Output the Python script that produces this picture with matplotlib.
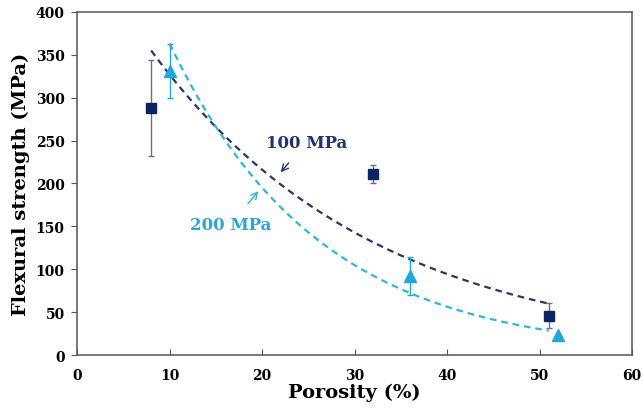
import numpy as np
import matplotlib.pyplot as plt

# 100 MPa compaction
x100 = [8, 32, 51]
y100 = [288, 211, 46]
e100 = [56, 11, 15]
# 200 MPa compaction
x200 = [10, 36, 52]
y200 = [331, 92, 23]
e200 = [31, 22, 0]

navy = '#0c2461'
navy_line = '#2a3568'
cyan = '#1fa8e0'
cyan_line = '#2cb8d6'

plt.rcParams['font.family'] = ['DejaVu Serif']
plt.rcParams['font.weight'] = 'bold'

fig = plt.figure(figsize=(6.43, 4.14), dpi=100)
ax = fig.add_axes([0.120, 0.140, 0.863, 0.829])

# exponential trendlines (log-linear fit, like the spreadsheet trendline)
b1, a1 = np.polyfit(x100, np.log(y100), 1)
xx1 = np.linspace(8, 51, 100)
ax.plot(xx1, np.exp(a1) * np.exp(b1 * xx1), '--', color=navy_line, lw=1.6, dashes=(3, 2.2))
b2, a2 = np.polyfit(x200, np.log(y200), 1)
xx2 = np.linspace(10, 51, 100)
ax.plot(xx2, np.exp(a2) * np.exp(b2 * xx2), '--', color=cyan_line, lw=1.6, dashes=(3, 2.2))

ax.errorbar(x100, y100, yerr=e100, fmt='s', color=navy, ms=7, ecolor='#6a6f95',
            elinewidth=1, capsize=2, capthick=1, zorder=5)
ax.errorbar(x200, y200, yerr=e200, fmt='^', color=cyan, ms=8, ecolor=cyan,
            elinewidth=1, capsize=2, capthick=1, zorder=5)

ax.annotate('100 MPa', xy=(22.0, 213), xytext=(24.8, 248), ha='center', va='center',
            fontsize=12, fontweight='bold', color='#1f3370',
            arrowprops=dict(arrowstyle='->', color='#2a3568', lw=1, shrinkA=9, shrinkB=0))
ax.annotate('200 MPa', xy=(19.6, 191), xytext=(16.6, 152), ha='center', va='center',
            fontsize=12, fontweight='bold', color='#2aa6dc',
            arrowprops=dict(arrowstyle='->', color='#2cb8d6', lw=1, shrinkA=9, shrinkB=0))

ax.set_xlim(0, 60)
ax.set_ylim(0, 400)
ax.set_xticks(range(0, 61, 10))
ax.set_yticks(range(0, 401, 50))
for s in ax.spines.values():
    s.set_color('#555555')
    s.set_linewidth(1.1)
ax.tick_params(axis='x', direction='in', length=4, color='#555555', labelsize=10, pad=9)
ax.tick_params(axis='y', direction='out', length=4, color='#555555', labelsize=10, pad=5)
ax.set_xlabel('Porosity (%)', fontsize=14, fontweight='bold', labelpad=1)
ax.set_ylabel('Flexural strength (MPa)', fontsize=14, fontweight='bold', labelpad=4)

fig.savefig('out.png', dpi=100)
